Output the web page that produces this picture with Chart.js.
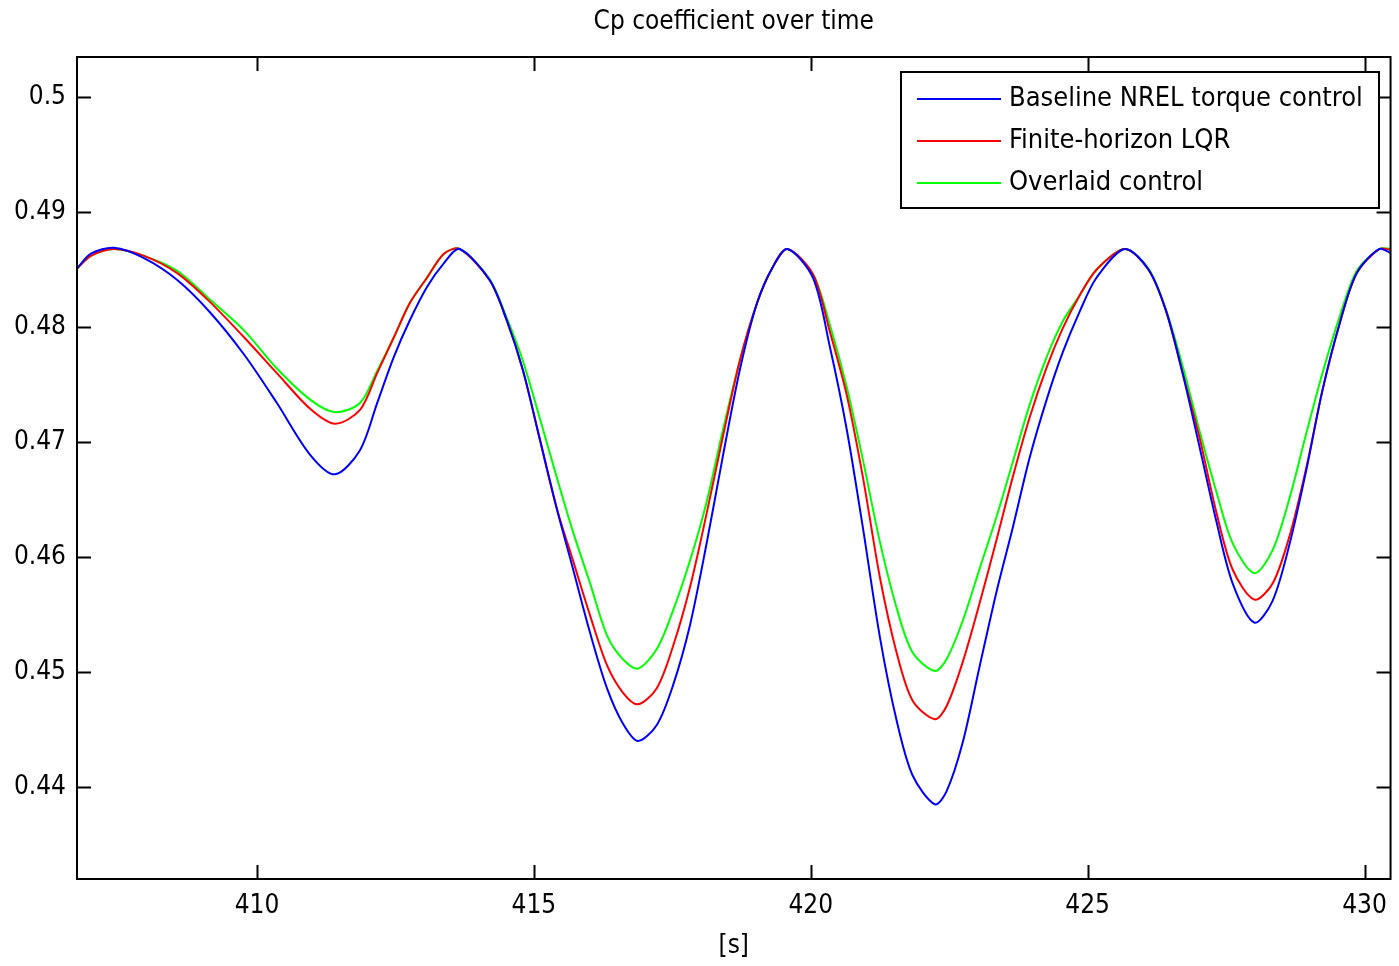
<!DOCTYPE html>
<html>
<head>
<meta charset="utf-8">
<script src="https://cdn.jsdelivr.net/npm/chart.js@4.4.1/dist/chart.umd.min.js"></script>
<style>
    html, body {
        margin: 0;
        padding: 0;
        background: #ffffff;
    }
    #cpChart-wrap {
        width: 1399px;
        height: 966px;
    }
</style>
</head>
<body>
<div id="cpChart-wrap">
    <canvas id="cpChart"></canvas>
</div>

<script>
    // time stamps [s]
    const time = [406.75, 407.0, 407.42, 407.96, 408.56, 409.15, 409.77, 410.36, 410.96, 411.41,
        411.86, 412.17, 412.47, 412.76, 413.07, 413.38, 413.66, 414.2, 414.51, 414.8,
        415.1, 415.41, 415.7, 416.01, 416.32, 416.61, 416.88, 417.22, 417.51, 417.82,
        418.12, 418.41, 418.72, 419.03, 419.31, 419.58, 420.04, 420.34, 420.65, 420.94,
        421.25, 421.55, 421.84, 422.24, 422.45, 422.74, 423.05, 423.36, 423.65, 423.95,
        424.26, 424.55, 424.86, 425.16, 425.67, 426.1, 426.41, 426.7, 427.02, 427.33,
        427.62, 428.01, 428.34, 428.65, 428.95, 429.24, 429.55, 429.86, 430.27, 430.49];

    const baseline = [0.4851, 0.4864, 0.4869, 0.4860, 0.4841, 0.4813, 0.4776, 0.4734, 0.4689, 0.4672,
        0.4693, 0.4734, 0.4774, 0.4806, 0.4835, 0.4856, 0.4868, 0.4841, 0.4806, 0.4763,
        0.4704, 0.4643, 0.4591, 0.4535, 0.4486, 0.4455, 0.4440, 0.4454, 0.4488, 0.4541,
        0.4612, 0.4687, 0.4763, 0.4821, 0.4852, 0.4868, 0.4843, 0.4784, 0.4711, 0.4626,
        0.4530, 0.4458, 0.4410, 0.4385, 0.4396, 0.4438, 0.4505, 0.4571, 0.4626, 0.4686,
        0.4737, 0.4778, 0.4814, 0.4843, 0.4868, 0.4850, 0.4815, 0.4763, 0.4696, 0.4630,
        0.4577, 0.4543, 0.4562, 0.4612, 0.4676, 0.4745, 0.4803, 0.4847, 0.4868, 0.4864];

    const lqr = [0.4851, 0.4862, 0.4868, 0.4862, 0.4847, 0.4822, 0.4791, 0.4760, 0.4729, 0.4716,
        0.4728, 0.4760, 0.4791, 0.4821, 0.4843, 0.4864, 0.4868, 0.4841, 0.4806, 0.4763,
        0.4704, 0.4643, 0.4598, 0.4550, 0.4506, 0.4482, 0.4472, 0.4486, 0.4522, 0.4574,
        0.4638, 0.4704, 0.4771, 0.4821, 0.4852, 0.4868, 0.4846, 0.4797, 0.4741, 0.4670,
        0.4582, 0.4517, 0.4475, 0.4459, 0.4470, 0.4508, 0.4560, 0.4616, 0.4670, 0.4721,
        0.4765, 0.4799, 0.4828, 0.4850, 0.4868, 0.4850, 0.4815, 0.4763, 0.4704, 0.4638,
        0.4589, 0.4563, 0.4577, 0.4619, 0.4678, 0.4745, 0.4803, 0.4847, 0.4868, 0.4867];

    const overlaid = [0.4851, 0.4862, 0.4868, 0.4862, 0.4849, 0.4824, 0.4797, 0.4764, 0.4737, 0.4726,
        0.4734, 0.4762, 0.4791, 0.4821, 0.4843, 0.4864, 0.4868, 0.4842, 0.4808, 0.4771,
        0.4722, 0.4670, 0.4623, 0.4578, 0.4532, 0.4511, 0.4503, 0.4520, 0.4553, 0.4597,
        0.4648, 0.4710, 0.4771, 0.4821, 0.4852, 0.4868, 0.4846, 0.4803, 0.4748, 0.4685,
        0.4613, 0.4556, 0.4517, 0.4501, 0.4511, 0.4544, 0.4590, 0.4636, 0.4683, 0.4732,
        0.4774, 0.4805, 0.4828, 0.4850, 0.4868, 0.4851, 0.4816, 0.4769, 0.4710, 0.4656,
        0.4612, 0.4586, 0.4606, 0.4652, 0.4708, 0.4760, 0.4809, 0.4849, 0.4868, 0.4868];

    const xTicks = [410, 415, 420, 425, 430];
    const yTicks = [0.44, 0.45, 0.46, 0.47, 0.48, 0.49, 0.5];
    const chartTitle = 'Cp coefficient over time';

    const FONT = "'Liberation Sans Narrow', 'DejaVu Sans Condensed', 'Liberation Sans', sans-serif";

    function pairs(values) {
        return values.map((v, i) => ({ x: time[i], y: v }));
    }

    // title over the axes box, box, inward ticks on all four sides, legend box in the top right
    const matlabFrame = {
        id: 'matlabFrame',
        afterDatasetsDraw(chart) {
            const c = chart.ctx;
            const a = chart.chartArea;
            const xs = chart.scales.x;
            const ys = chart.scales.y;
            const len = 14;
            c.save();

            c.fillStyle = '#000000';
            c.font = '26px ' + FONT;
            c.textAlign = 'center';
            c.textBaseline = 'middle';
            c.fillText(chartTitle, (a.left + a.right) / 2, 22);
            c.textAlign = 'left';

            c.strokeStyle = '#000000';
            c.lineWidth = 2;
            c.beginPath();
            xTicks.forEach(v => {
                const px = Math.round(xs.getPixelForValue(v)) + 0.5;
                c.moveTo(px, a.bottom); c.lineTo(px, a.bottom - len);
                c.moveTo(px, a.top); c.lineTo(px, a.top + len);
            });
            yTicks.forEach(v => {
                const py = Math.round(ys.getPixelForValue(v)) + 0.5;
                c.moveTo(a.left, py); c.lineTo(a.left + len, py);
                c.moveTo(a.right, py); c.lineTo(a.right - len, py);
            });
            c.stroke();
            c.strokeRect(a.left, a.top, a.right - a.left, a.bottom - a.top);

            // legend
            const bx = 901, by = 72, bw = 478, bh = 136;
            c.fillStyle = '#ffffff';
            c.fillRect(bx, by, bw, bh);
            c.strokeRect(bx, by, bw, bh);
            c.font = '27px ' + FONT;
            chart.data.datasets.forEach((ds, i) => {
                const yy = by + 27 + i * 42;
                c.strokeStyle = ds.borderColor;
                c.lineWidth = 2;
                c.beginPath();
                c.moveTo(bx + 16, yy); c.lineTo(bx + 100, yy);
                c.stroke();
                c.fillStyle = '#000000';
                c.fillText(ds.label, bx + 108, yy);
            });
            c.restore();
        }
    };

    const ctx = document.getElementById('cpChart').getContext('2d');
    const cpChart = new Chart(ctx, {
        type: 'line',
        data: {
            datasets: [{
                label: 'Baseline NREL torque control',
                data: pairs(baseline),
                borderColor: '#0000ff'
            }, {
                label: 'Finite-horizon LQR',
                data: pairs(lqr),
                borderColor: '#ff0000'
            }, {
                label: 'Overlaid control',
                data: pairs(overlaid),
                borderColor: '#00ff00'
            }]
        },
        options: {
            responsive: true,
            maintainAspectRatio: false,
            animation: false,
            parsing: false,
            datasets: {
                line: {
                    borderWidth: 2,
                    pointRadius: 0,
                    fill: false,
                    tension: 0.3
                }
            },
            layout: {
                padding: { left: 0, right: 8, top: 57, bottom: 0 }
            },
            scales: {
                x: {
                    type: 'linear',
                    min: 406.75,
                    max: 430.47,
                    afterBuildTicks: s => { s.ticks = xTicks.map(v => ({ value: v })); },
                    afterFit: s => { s.height = 87; },
                    grid: { display: false, drawTicks: false },
                    border: { display: false },
                    ticks: {
                        padding: 12,
                        color: '#000000',
                        maxRotation: 0,
                        font: { family: FONT, size: 26 },
                        callback: v => String(v)
                    },
                    title: {
                        display: true,
                        text: '[s]',
                        color: '#000000',
                        padding: { top: 0, bottom: 4 },
                        font: { family: FONT, size: 26 }
                    }
                },
                y: {
                    min: 0.432,
                    max: 0.5035,
                    afterBuildTicks: s => { s.ticks = yTicks.map(v => ({ value: v })); },
                    afterFit: s => { s.width = 77; },
                    grid: { display: false, drawTicks: false },
                    border: { display: false },
                    ticks: {
                        padding: 11,
                        color: '#000000',
                        font: { family: FONT, size: 26 },
                        callback: v => String(v)
                    }
                }
            },
            plugins: {
                legend: { display: false },
                tooltip: { enabled: false },
                title: { display: false }
            }
        },
        plugins: [matlabFrame]
    });
</script>
</body>
</html>
